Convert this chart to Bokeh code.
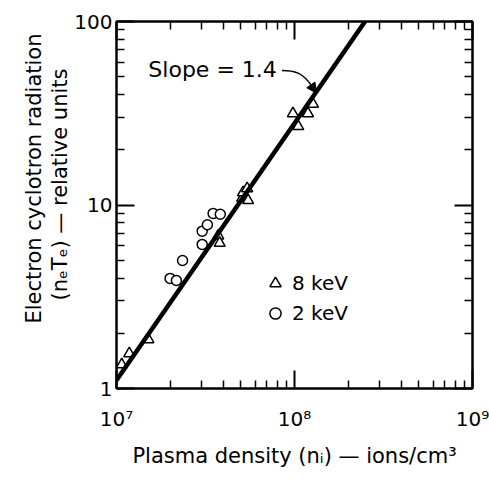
import math
from bokeh.plotting import figure
from bokeh.models import (Range1d, FixedTicker, LogAxis, CustomJSTickFormatter,
                          Label, Legend, LegendItem, Arrow, NormalHead, Title)
from bokeh.embed import file_html
from bokeh.resources import INLINE

# ---------------- data ----------------
tri_x = [1.07e7, 1.18e7, 1.51e7, 3.73e7, 3.80e7, 5.08e7, 5.14e7, 5.42e7, 5.49e7,
         0.98e8, 1.05e8, 1.19e8, 1.27e8]
tri_y = [1.35, 1.55, 1.85, 6.8, 6.2, 10.9, 11.7, 12.3, 10.6,
         31.5, 26.8, 31.5, 35.5]

circ_x = [2.00e7, 2.17e7, 2.35e7, 3.03e7, 3.03e7, 3.24e7, 3.49e7, 3.83e7]
circ_y = [3.98, 3.88, 4.98, 6.1, 7.2, 7.8, 9.0, 8.9]

fit_slope = 1.4
fit_coef = 1.11          # fitted value at n = 1e7
fit_x = [1e7, 3e8]
fit_y = [fit_coef * (x / 1e7) ** fit_slope for x in fit_x]

x_major = [1e7, 1e8, 1e9]
x_minor = [k * 10 ** e for e in (7, 8) for k in range(2, 10)]
y_major = [1, 10, 100]
y_minor = [k * 10 ** e for e in (0, 1) for k in range(2, 10)]

legend_labels = ["8 keV", "2 keV"]
slope_text = "Slope = 1.4"
x_title = "Plasma density (n\u1d62) \u2014 ions/cm\u00b3"
y_title_1 = "Electron cyclotron radiation"
y_title_2 = "(n\u2091T\u2091) \u2014 relative units"

FONT = "DejaVu Sans"

# ---------------- figure ----------------
p = figure(width=489, height=481, x_axis_type="log", y_axis_type="log",
           x_range=Range1d(1e7, 1e9), y_range=Range1d(1, 100),
           output_backend="svg", toolbar_location=None,
           min_border_left=116, min_border_right=17,
           min_border_top=21, min_border_bottom=93)
p.xgrid.visible = False
p.ygrid.visible = False
p.outline_line_color = "black"
p.outline_line_width = 2
p.background_fill_color = "white"
p.border_fill_color = "white"


def style(ax, labels):
    ax.axis_line_width = 2
    ax.axis_line_color = "black"
    ax.major_tick_line_width = 2
    ax.minor_tick_line_width = 1.5
    ax.major_tick_in = 18
    ax.major_tick_out = 0
    ax.minor_tick_in = 8
    ax.minor_tick_out = 0
    if labels:
        ax.major_label_text_font = FONT
        ax.major_label_text_font_size = "20px"
        ax.major_label_text_color = "black"
    else:
        ax.major_label_text_color = None
    ax.axis_label_text_font = FONT
    ax.axis_label_text_font_size = "21px"
    ax.axis_label_text_font_style = "normal"
    ax.axis_label_text_color = "black"


xa = p.xaxis[0]
ya = p.yaxis[0]
xa.ticker = FixedTicker(ticks=x_major, minor_ticks=x_minor)
ya.ticker = FixedTicker(ticks=y_major, minor_ticks=y_minor)
xa.formatter = CustomJSTickFormatter(code="""
const sup = {"0":"\u2070","1":"\u00b9","2":"\u00b2","3":"\u00b3","4":"\u2074",
             "5":"\u2075","6":"\u2076","7":"\u2077","8":"\u2078","9":"\u2079"};
const e = Math.round(Math.log10(tick)).toString();
return "10" + e.split("").map(c => sup[c]).join("");
""")
ya.formatter = CustomJSTickFormatter(code="return tick.toFixed(0)")
style(xa, True)
style(ya, True)
xa.major_label_standoff = 18
xa.axis_label = x_title
xa.axis_label_standoff = 10
ya.major_label_standoff = 4

top = LogAxis(ticker=FixedTicker(ticks=x_major, minor_ticks=x_minor))
right = LogAxis(ticker=FixedTicker(ticks=y_major, minor_ticks=y_minor))
style(top, False)
style(right, False)
p.add_layout(top, "above")
p.add_layout(right, "right")

# two-line y title as left-side titles (inner line first), top-anchored
for txt, off in ((y_title_2, 47), (y_title_1, 12)):
    t = Title(text=txt, align="right", offset=off, standoff=0,
              text_font=FONT, text_font_size="21px", text_font_style="normal",
              text_color="black")
    p.add_layout(t, "left")

# ---------------- marks ----------------
r_tri = p.scatter(tri_x, tri_y, marker="triangle", size=11, line_color="black",
                  line_width=1.5, fill_color="white")
r_circ = p.scatter(circ_x, circ_y, marker="circle", size=10, line_color="black",
                   line_width=1.5, fill_color="white")
p.line(fit_x, fit_y, line_width=4.5, line_color="black")

# slope annotation with curved arrow
p.add_layout(Label(x=1.51e7, y=55, text=slope_text, text_font=FONT,
                   text_font_size="22px", text_baseline="middle", text_color="black"))
p.bezier(x0=[8.5e7], y0=[54], x1=[1.2e8], y1=[47], cx0=[1.02e8], cy0=[54],
         cx1=[1.1e8], cy1=[52], line_width=1.5, line_color="black")
p.add_layout(Arrow(end=NormalHead(size=10, fill_color="black", line_color="black"),
                   x_start=1.2e8, y_start=47, x_end=1.33e8, y_end=40.7,
                   line_width=1.5, line_color="black"))

# legend
legend = Legend(items=[LegendItem(label=legend_labels[0], renderers=[r_tri]),
                       LegendItem(label=legend_labels[1], renderers=[r_circ])],
                location=(145, 61), border_line_color=None, background_fill_alpha=0,
                padding=0, margin=0, spacing=2, glyph_width=28, glyph_height=28,
                label_height=28, label_standoff=3, label_text_font=FONT,
                label_text_font_size="20px", label_text_color="black")
p.add_layout(legend)

open("out.html", "w").write(file_html(p, INLINE))
